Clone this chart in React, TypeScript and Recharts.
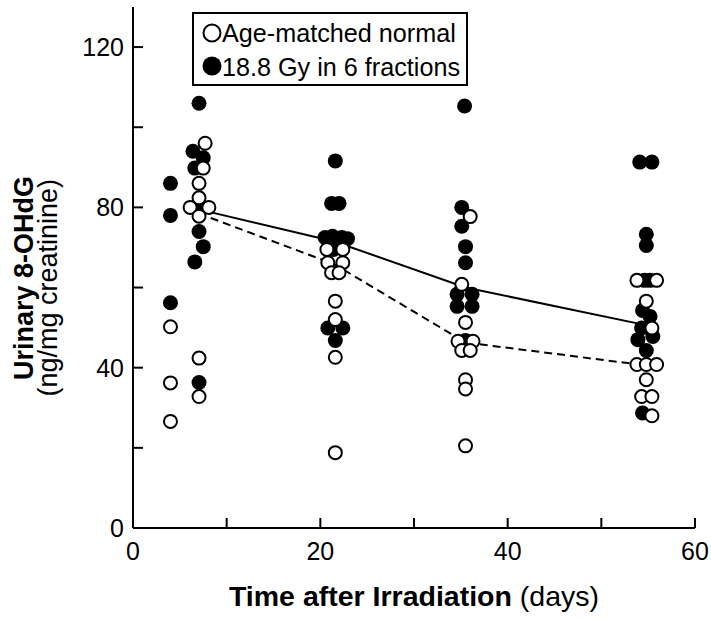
import React from 'react'
import { ComposedChart, Line, Scatter, XAxis, YAxis, Legend, Label } from 'recharts'

// group means (line series)
const meanDays = [7, 21.5, 35.5, 55]
const irradiatedMean = [79.5, 71.5, 60, 50.5]
const normalMean = [78.5, 65.8, 46.3, 40.5]

// individual animals, age-matched normal (open circles)
const normalDays = [
  7.7, 7.5, 7.05, 7.05, 6.1, 8.1, 7.05, 7.05, 7.05, 4.0, 4.0, 4.0,
  20.7, 22.4, 20.8, 22.4, 21.2, 22.0, 21.6, 21.6, 21.6, 21.6,
  36.0, 35.1, 35.5, 34.7, 36.3, 35.1, 36.0, 35.5, 35.5, 35.5,
  53.8, 55.9, 54.8, 55.4, 53.8, 54.8, 55.9, 54.8, 54.3, 55.4, 55.4,
]
const normalValues = [
  96, 89.8, 86, 82.4, 80, 80, 77.8, 42.4, 32.8, 50.2, 36.2, 26.6,
  69.5, 69.5, 66.2, 66.2, 63.7, 63.7, 56.6, 52, 42.6, 18.8,
  77.7, 60.8, 51.3, 46.6, 46.6, 44.3, 44.3, 37, 34.7, 20.5,
  61.8, 61.8, 56.6, 49.9, 40.8, 40.8, 40.8, 37, 32.8, 32.8, 28,
]

// individual animals, 18.8 Gy in 6 fractions (filled circles)
const irradiatedDays = [
  7.05, 6.4, 7.5, 6.6, 4.0, 7.05, 4.0, 7.05, 7.5, 6.6, 4.0, 7.05,
  21.6, 21.2, 22.0, 20.5, 21.3, 22.3, 22.9, 21.4, 20.8, 22.4, 21.6,
  35.4, 35.1, 35.1, 35.5, 35.5, 34.6, 36.2, 34.6, 36.2, 35.5,
  54.1, 55.4, 54.8, 54.8, 54.6, 55.2, 54.4, 55.2, 54.3, 55.5, 53.9, 54.8, 54.4,
]
const irradiatedValues = [
  106, 94, 92.4, 89.8, 86, 80, 78, 74, 70.2, 66.4, 56.2, 36.3,
  91.6, 81, 81, 72.5, 72.8, 72.5, 72.2, 69.5, 49.9, 49.9, 46.8,
  105.3, 80, 75.3, 70.2, 66.2, 58.3, 58.3, 55.3, 55.3, 46.8,
  91.3, 91.3, 73.3, 70.5, 61.8, 61.8, 54.3, 52.8, 49.9, 47.8, 47, 44.3, 28.7,
]

const xTicks = [0, 10, 20, 30, 40, 50, 60]
const yTicks = [0, 20, 40, 60, 80, 100, 120]

const FONT = '"Liberation Sans", Arial, Helvetica, sans-serif'

const normalPoints = normalDays.map((day, i) => ({ day, value: normalValues[i] }))
const irradiatedPoints = irradiatedDays.map((day, i) => ({ day, value: irradiatedValues[i] }))
const normalMeanData = meanDays.map((day, i) => ({ day, value: normalMean[i] }))
const irradiatedMeanData = meanDays.map((day, i) => ({ day, value: irradiatedMean[i] }))

const OpenDot = (props: any) => (
  <circle cx={props.cx} cy={props.cy} r={6.5} fill="#fff" stroke="#000" strokeWidth={2} />
)

const FilledDot = (props: any) => (
  <circle cx={props.cx} cy={props.cy} r={7.5} fill="#000" />
)

const XTick = (props: any) => {
  const { x, y, payload } = props
  const v = payload.value
  return (
    <g>
      <line x1={x} x2={x} y1={y} y2={y - 10} stroke="#000" strokeWidth={2} />
      {v % 20 === 0 && (
        <text x={x} y={y + 32} textAnchor="middle" fontSize={25} fontFamily={FONT} fill="#000">
          {v}
        </text>
      )}
    </g>
  )
}

const YTick = (props: any) => {
  const { x, y, payload } = props
  const v = payload.value
  return (
    <g>
      <line x1={x} x2={x + 10} y1={y} y2={y} stroke="#000" strokeWidth={2} />
      {v % 40 === 0 && (
        <text x={x - 9} y={y + 9} textAnchor="end" fontSize={25} fontFamily={FONT} fill="#000">
          {v}
        </text>
      )}
    </g>
  )
}

const XTitle = () => (
  <text x={414} y={606} textAnchor="middle" fontSize={28.5} fontFamily={FONT} fill="#000">
    <tspan fontWeight="bold">Time after Irradiation</tspan>
    <tspan> (days)</tspan>
  </text>
)

const YTitle = () => (
  <g fontFamily={FONT} fill="#000">
    <text transform="translate(33,176) rotate(-90)" textAnchor="end" fontSize={27} fontWeight="bold">
      Urinary 8-OHdG
    </text>
    <text transform="translate(57,179) rotate(-90)" textAnchor="end" fontSize={27}>
      (ng/mg creatinine)
    </text>
  </g>
)

const LegendBox = () => (
  <svg width={276} height={74} style={{ display: 'block' }}>
    <rect x={1} y={1} width={274} height={72} fill="#fff" stroke="#000" strokeWidth={2} />
    <circle cx={20} cy={21} r={8.5} fill="#fff" stroke="#000" strokeWidth={2} />
    <circle cx={20} cy={54} r={9.5} fill="#000" />
    <text x={30} y={30} fontSize={25.2} fontFamily={FONT} fill="#000">Age-matched normal</text>
    <text x={30} y={64} fontSize={25.2} fontFamily={FONT} fill="#000">18.8 Gy in 6 fractions</text>
  </svg>
)

export default function App() {
  return (
    <div style={{ position: 'absolute', left: 0, top: 0, width: 711, height: 620, background: '#fff' }}>
      <ComposedChart
        width={711}
        height={620}
        margin={{ top: 7, right: 16, bottom: 52, left: 73 }}
      >
        <XAxis
          dataKey="day"
          type="number"
          domain={[0, 60]}
          ticks={xTicks}
          tick={<XTick />}
          tickLine={false}
          tickSize={0}
          tickMargin={0}
          height={40}
          axisLine={{ stroke: '#000', strokeWidth: 2 }}
          allowDataOverflow
        >
          <Label content={<XTitle />} />
        </XAxis>
        <XAxis
          xAxisId="top"
          orientation="top"
          type="number"
          domain={[0, 60]}
          height={0}
          tick={false}
          tickLine={false}
          axisLine={{ stroke: '#000', strokeWidth: 2 }}
        />
        <YAxis
          dataKey="value"
          type="number"
          domain={[0, 130]}
          ticks={yTicks}
          tick={<YTick />}
          tickLine={false}
          tickSize={0}
          tickMargin={0}
          width={60}
          axisLine={{ stroke: '#000', strokeWidth: 2 }}
          allowDataOverflow
        >
          <Label content={<YTitle />} />
        </YAxis>
        <YAxis
          yAxisId="right"
          orientation="right"
          type="number"
          domain={[0, 130]}
          width={0}
          tick={false}
          tickLine={false}
          axisLine={{ stroke: '#000', strokeWidth: 2 }}
        />
        <Line
          data={normalMeanData}
          dataKey="value"
          type="linear"
          stroke="#000"
          strokeWidth={2}
          strokeDasharray="8 5"
          dot={false}
          isAnimationActive={false}
        />
        <Line
          data={irradiatedMeanData}
          dataKey="value"
          type="linear"
          stroke="#000"
          strokeWidth={2}
          dot={false}
          isAnimationActive={false}
        />
        <Scatter data={irradiatedPoints} dataKey="value" shape={<FilledDot />} isAnimationActive={false} />
        <Scatter data={normalPoints} dataKey="value" shape={<OpenDot />} isAnimationActive={false} />
        <Legend
          layout="vertical"
          align="center"
          verticalAlign="middle"
          wrapperStyle={{ left: 192, top: 12, width: 276, height: 74 }}
          content={<LegendBox />}
        />
      </ComposedChart>
    </div>
  )
}
